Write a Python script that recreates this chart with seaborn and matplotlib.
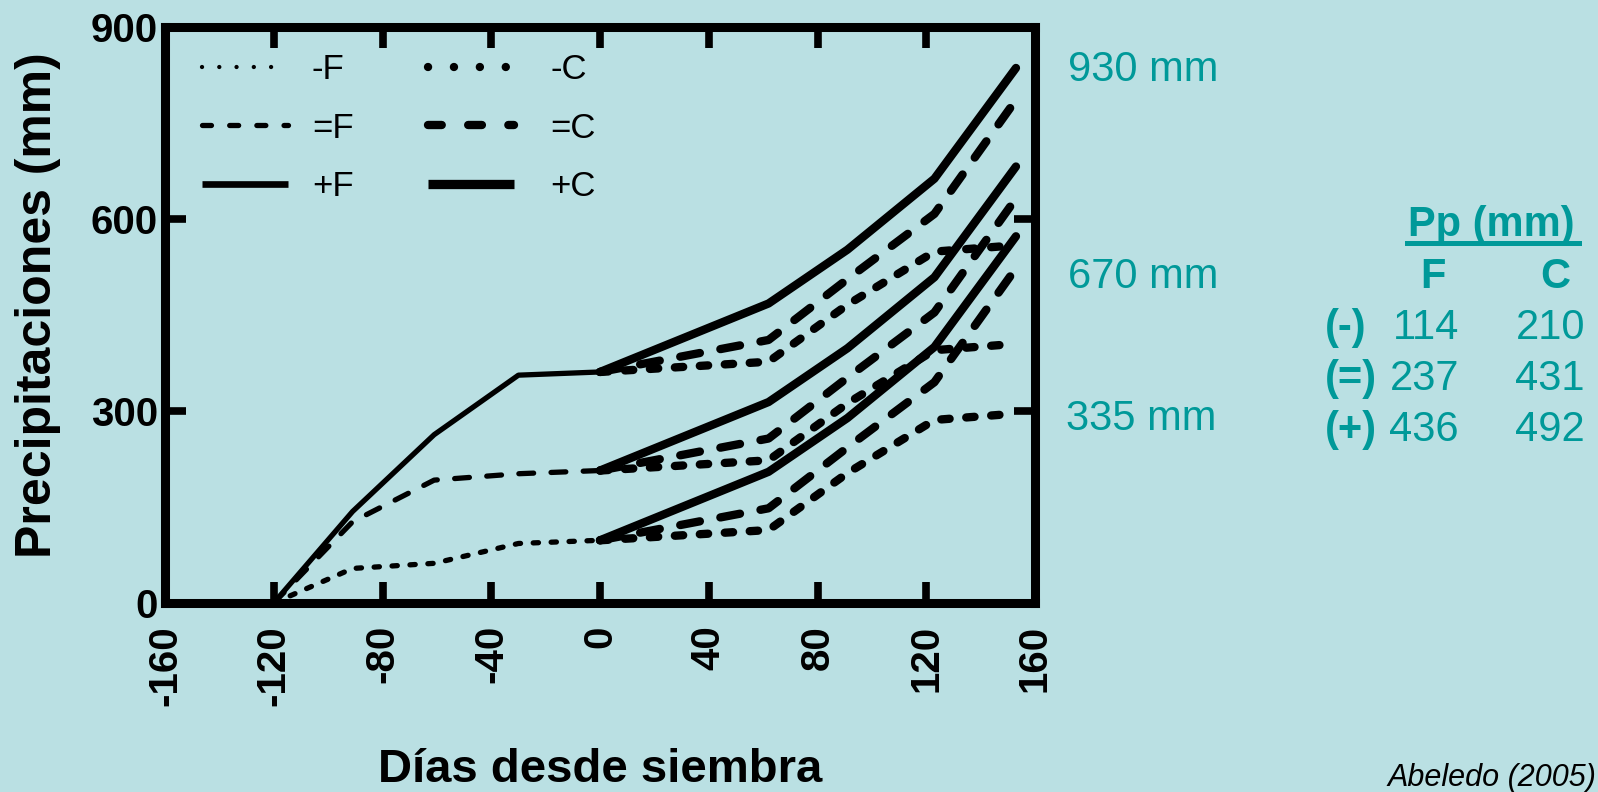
import seaborn as sns
import pandas as pd
import matplotlib.pyplot as plt
from matplotlib.lines import Line2D

W, H = 1598, 792
bg = '#BAE0E3'
teal = '#009999'

plt.rcParams['font.family'] = ['Liberation Sans', 'DejaVu Sans']
plt.rcParams['axes.unicode_minus'] = False

# dias desde siembra
f_days = [-120, -91, -61, -30, 0]
c_days = [0, 62, 91, 123, 153]

# barbecho (F), precipitacion acumulada en mm
f_minus = [0, 54, 62, 93, 98]
f_equal = [0, 127, 192, 202, 207]
f_plus = [0, 143, 263, 356, 361]

# ciclo del cultivo (C), a partir de cada barbecho
c_minus_fm = [98, 114, 203, 286, 296]
c_equal_fm = [98, 148, 243, 345, 523]
c_plus_fm = [98, 205, 289, 400, 573]
c_minus_fe = [207, 223, 312, 395, 405]
c_equal_fe = [207, 257, 352, 454, 632]
c_plus_fe = [207, 314, 398, 509, 682]
c_minus_fp = [361, 377, 466, 549, 559]
c_equal_fp = [361, 411, 506, 608, 786]
c_plus_fp = [361, 468, 552, 663, 836]

totals = ['930 mm', '670 mm', '335 mm']
pp_rows = ['(-)', '(=)', '(+)']
pp_f = [114, 237, 436]
pp_c = [210, 431, 492]

series = [
    ('-F', f_days, f_minus), ('=F', f_days, f_equal), ('+F', f_days, f_plus),
    ('-C', c_days, c_minus_fm), ('=C', c_days, c_equal_fm), ('+C', c_days, c_plus_fm),
    ('-C', c_days, c_minus_fe), ('=C', c_days, c_equal_fe), ('+C', c_days, c_plus_fe),
    ('-C', c_days, c_minus_fp), ('=C', c_days, c_equal_fp), ('+C', c_days, c_plus_fp),
]

thin, thick = 3.8, 6.0
styles = {
    '-F': dict(linewidth=thin, linestyle=(0, (1.0, 2.4))),
    '=F': dict(linewidth=thin, linestyle=(0, (2.8, 3.3))),
    '+F': dict(linewidth=thin, linestyle='-'),
    '-C': dict(linewidth=thick, linestyle=(0, (1.0, 2.0))),
    '=C': dict(linewidth=thick, linestyle=(0, (2.4, 2.5))),
    '+C': dict(linewidth=thick, linestyle='-'),
}


def px(x, y):
    return x / W, 1 - y / H


fig = plt.figure(figsize=(W / 100, H / 100), dpi=100, facecolor=bg)
ax = fig.add_axes([165 / W, (H - 603) / H, 870 / W, 576 / H])
ax.set_facecolor(bg)

for key, days, vals in series:
    df = pd.DataFrame({'dias': days, 'pp': vals})
    sns.lineplot(data=df, x='dias', y='pp', ax=ax, color='black',
                 dash_capstyle='round', solid_capstyle='round',
                 solid_joinstyle='round', **styles[key])

ax.set_xlim(-160, 160)
ax.set_ylim(0, 900)
ax.set_xticks(range(-160, 161, 40))
ax.set_yticks([0, 300, 600, 900])
ax.set_xlabel('')
ax.set_ylabel('')
for s in ax.spines.values():
    s.set_linewidth(6.5)
    s.set_color('black')
ax.tick_params(axis='both', direction='in', length=15, width=5.5,
               top=True, right=True, labelsize=29, color='black')
ax.tick_params(axis='x', labelrotation=90, pad=16)
ax.tick_params(axis='y', pad=5)
for lbl in ax.get_xticklabels() + ax.get_yticklabels():
    lbl.set_fontweight('bold')

# leyenda en dos columnas
def proxy(lw, ls, cap='round'):
    return Line2D([], [], color='black', linewidth=lw, linestyle=ls,
                  dash_capstyle=cap, solid_capstyle='butt')


h_f = [proxy(3.1, (0, (0.01, 4.0))), proxy(thin, (0, (1.7, 3.45))), proxy(4.8, '-')]
h_c = [proxy(thick, (0, (0.01, 3.1))), proxy(thick, (0, (1.65, 3.17))), proxy(6.7, '-')]
leg_kw = dict(loc='center left', bbox_transform=fig.transFigure, frameon=False,
              fontsize=25, handlelength=2.48, labelspacing=0.73,
              borderpad=0, borderaxespad=0)
leg_f = ax.legend(h_f, ['-F', '=F', '+F'], bbox_to_anchor=px(201.7, 128),
                  handletextpad=0.69, **leg_kw)
ax.add_artist(leg_f)
ax.legend(h_c, ['-C', '=C', '+C'], bbox_to_anchor=px(428.3, 128),
          handletextpad=1.04, **leg_kw)

# textos
fig.text(*px(600, 782), 'Días desde siembra', ha='center', va='baseline',
         fontsize=34, fontweight='bold')
fig.text(*px(38, 305), 'Precipitaciones (mm)', ha='center', va='center',
         rotation=90, fontsize=36, fontweight='bold')

for txt, (x, y) in zip(totals, [(1068, 81), (1068, 288), (1066, 430)]):
    fig.text(*px(x, y), txt, color=teal, fontsize=30, va='baseline')

fig.text(*px(1408, 236), 'Pp (mm)', color=teal, fontsize=30,
         fontweight='bold', va='baseline')
fig.add_artist(Line2D([1406.5 / W, 1579 / W], [1 - 242.5 / H] * 2,
                      transform=fig.transFigure, color=teal, linewidth=3.6))
fig.text(*px(1433, 288), 'F', color=teal, fontsize=30, fontweight='bold',
         ha='center', va='baseline')
fig.text(*px(1555, 288), 'C', color=teal, fontsize=30, fontweight='bold',
         ha='center', va='baseline')
for i, (r, f, c) in enumerate(zip(pp_rows, pp_f, pp_c)):
    y = [339, 390, 441][i]
    fig.text(*px(1325, y), r, color=teal, fontsize=30, fontweight='bold', va='baseline')
    fig.text(*px(1459, y), str(f), color=teal, fontsize=30, ha='right', va='baseline')
    fig.text(*px(1585, y), str(c), color=teal, fontsize=30, ha='right', va='baseline')

fig.text(*px(1388, 786), 'Abeledo (2005)', fontsize=22, fontstyle='italic',
         va='baseline')

fig.savefig('out.png', dpi=100, facecolor=bg)
